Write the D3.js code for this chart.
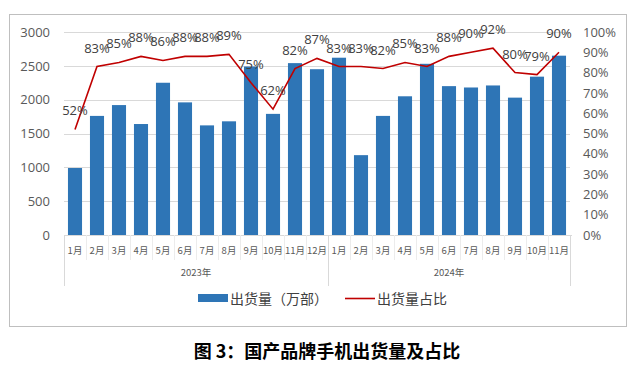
<!DOCTYPE html>
<html>
<head>
<meta charset="utf-8">
<script src="https://cdn.jsdelivr.net/npm/d3@7"></script>
<style>
body { margin: 0; background: white; }
text { font-family: "Open Sans", "Noto Sans CJK SC", sans-serif; }
.cjk { font-family: "Noto Sans CJK SC", sans-serif; }
</style>
</head>
<body>
<script>

const months = ["1月","2月","3月","4月","5月","6月","7月","8月","9月","10月","11月","12月",
                "1月","2月","3月","4月","5月","6月","7月","8月","9月","10月","11月"];
const years = ["2023年", "2024年"];
const yearLength = [12, 11];
const shipments = [990,1760,1920,1640,2250,1960,1620,1680,2490,1790,2540,2450,
                   2620,1180,1760,2050,2530,2200,2180,2210,2030,2340,2650];
const share = [52,83,85,88,86,88,88,89,75,62,82,87,
               83,83,82,85,83,88,90,92,80,79,90];
const leftTicks = [0,500,1000,1500,2000,2500,3000];
const rightTicks = [0,10,20,30,40,50,60,70,80,90,100];

const W = 640, H = 371;
const svg = d3.select("body").append("svg").attr("width", W).attr("height", H);

// outer frame
svg.append("rect").attr("x", 9.5).attr("y", 14.5).attr("width", 617).attr("height", 312)
   .attr("fill", "none").attr("stroke", "#bfbfbf");

const idx = d3.range(months.length);
const x = d3.scaleBand().domain(idx).range([64, 570]).paddingInner(0.36).paddingOuter(0.18);
const yL = d3.scaleLinear().domain([0, 3000]).range([235, 32]);
const yR = d3.scaleLinear().domain([0, 100]).range([235, 32]);

// gridlines
svg.append("g").selectAll("line").data(leftTicks.slice(1)).join("line")
   .attr("x1", 64).attr("x2", 570)
   .attr("y1", d => Math.round(yL(d)) + 0.5).attr("y2", d => Math.round(yL(d)) + 0.5)
   .attr("stroke", "#d9d9d9");

// left axis
const axL = svg.append("g").attr("transform", "translate(64,0)")
   .call(d3.axisLeft(yL).tickValues(leftTicks).tickFormat(d3.format("d")).tickSize(0).tickPadding(14));
axL.select(".domain").remove();
axL.selectAll("text").attr("font-size", 13).attr("fill", "#595959")
   .style("font-family", "'Open Sans', sans-serif");

// right axis
const axR = svg.append("g").attr("transform", "translate(570,0)")
   .call(d3.axisRight(yR).tickValues(rightTicks).tickFormat(d => d + "%").tickSize(0).tickPadding(13));
axR.select(".domain").remove();
axR.selectAll("text").attr("font-size", 13).attr("fill", "#595959")
   .style("font-family", "'Open Sans', sans-serif");

// bars
svg.append("g").selectAll("rect").data(idx).join("rect")
   .attr("x", i => x(i)).attr("width", x.bandwidth())
   .attr("y", i => yL(shipments[i])).attr("height", i => yL(0) - yL(shipments[i]))
   .attr("fill", "#2e75b6");

// category axis (two levels)
const step = x.step();
const x0 = 64;
svg.append("line").attr("x1", 64).attr("x2", 572).attr("y1", 235.5).attr("y2", 235.5)
   .attr("stroke", "#d9d9d9");
svg.append("g").selectAll("line").data(d3.range(1, months.length)).join("line")
   .attr("x1", i => Math.round(x0 + i * step) + 0.5).attr("x2", i => Math.round(x0 + i * step) + 0.5)
   .attr("y1", 235).attr("y2", 260).attr("stroke", "#ececec");
const bounds = [0, yearLength[0], yearLength[0] + yearLength[1]];
svg.append("g").selectAll("line").data(bounds).join("line")
   .attr("x1", b => Math.round(x0 + b * step) + 0.5).attr("x2", b => Math.round(x0 + b * step) + 0.5)
   .attr("y1", 235).attr("y2", 286).attr("stroke", "#d9d9d9");
svg.append("g").selectAll("text").data(idx).join("text")
   .attr("class", "cjk")
   .attr("x", i => x(i) + x.bandwidth() / 2).attr("y", 254)
   .attr("text-anchor", "middle").attr("font-size", 9.5).attr("fill", "#595959")
   .text(i => months[i]);
svg.append("g").selectAll("text").data(years).join("text")
   .attr("class", "cjk")
   .attr("x", (d, k) => x0 + (bounds[k] + bounds[k + 1]) / 2 * step).attr("y", 276)
   .attr("text-anchor", "middle").attr("font-size", 9.5).attr("fill", "#595959")
   .text(d => d);

// share line
const line = d3.line().x(i => x(i) + x.bandwidth() / 2).y(i => yR(share[i]));
svg.append("path").datum(idx).attr("d", line)
   .attr("fill", "none").attr("stroke", "#c00000").attr("stroke-width", 1.6);

// data labels
svg.append("g").selectAll("text").data(idx).join("text")
   .attr("x", i => x(i) + x.bandwidth() / 2).attr("y", i => yR(share[i]) - 14)
   .attr("text-anchor", "middle").attr("font-size", 13).attr("fill", "#404040")
   .style("font-family", "'Open Sans', sans-serif")
   .text(i => share[i] + "%");

// legend
const lg = svg.append("g").attr("transform", "translate(0,298)");
lg.append("rect").attr("x", 198).attr("y", -4).attr("width", 30).attr("height", 8).attr("fill", "#2e75b6");
lg.append("text").attr("class", "cjk").attr("x", 230).attr("y", 5.5).attr("font-size", 14)
  .attr("fill", "#404040").text("出货量（万部）");
lg.append("line").attr("x1", 345).attr("x2", 375).attr("y1", 0.5).attr("y2", 0.5)
  .attr("stroke", "#c00000").attr("stroke-width", 1.6);
lg.append("text").attr("class", "cjk").attr("x", 377).attr("y", 5.5).attr("font-size", 14)
  .attr("fill", "#404040").text("出货量占比");

// title
svg.append("text").attr("class", "cjk").attr("x", 327).attr("y", 358)
   .attr("text-anchor", "middle").attr("font-size", 18).attr("font-weight", "bold")
   .attr("fill", "#000").text("图 3：国产品牌手机出货量及占比");

</script>
</body>
</html>
